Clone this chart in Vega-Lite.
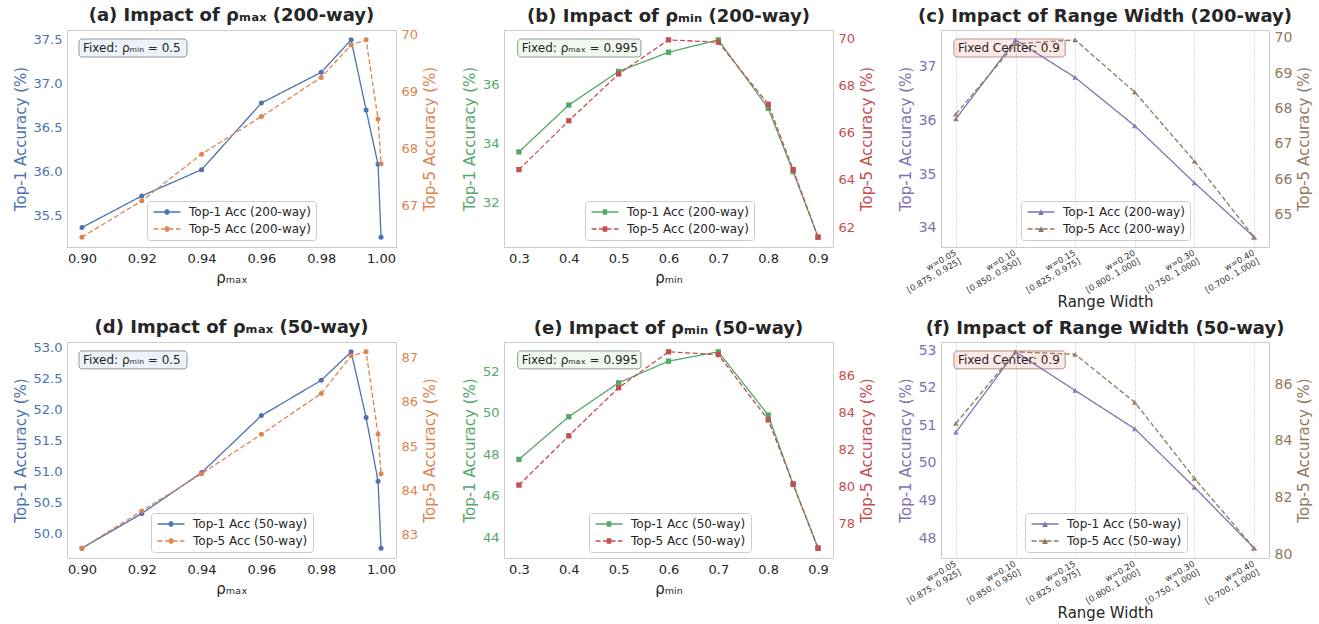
{
  "$schema": "https://vega.github.io/schema/vega-lite/v6.json",
  "padding": {"left": 12, "top": 6, "right": 5, "bottom": 5},
  "bounds": "flush",
  "columns": 3,
  "spacing": {"row": 95, "column": 108},
  "resolve": {"scale": {"color": "independent", "strokeDash": "independent", "x": "independent", "y": "independent"}, "legend": {"color": "independent", "strokeDash": "independent"}},
  "datasets": {
    "a1": [
      {"rho_max": 0.90, "series": "Top-1 Acc (200-way)", "acc": 35.36},
      {"rho_max": 0.92, "series": "Top-1 Acc (200-way)", "acc": 35.72},
      {"rho_max": 0.94, "series": "Top-1 Acc (200-way)", "acc": 36.02},
      {"rho_max": 0.96, "series": "Top-1 Acc (200-way)", "acc": 36.78},
      {"rho_max": 0.98, "series": "Top-1 Acc (200-way)", "acc": 37.13},
      {"rho_max": 0.99, "series": "Top-1 Acc (200-way)", "acc": 37.50},
      {"rho_max": 0.995, "series": "Top-1 Acc (200-way)", "acc": 36.70},
      {"rho_max": 0.999, "series": "Top-1 Acc (200-way)", "acc": 36.08},
      {"rho_max": 1.0, "series": "Top-1 Acc (200-way)", "acc": 35.25}
    ],
    "a5": [
      {"rho_max": 0.90, "series": "Top-5 Acc (200-way)", "acc": 66.44},
      {"rho_max": 0.92, "series": "Top-5 Acc (200-way)", "acc": 67.08},
      {"rho_max": 0.94, "series": "Top-5 Acc (200-way)", "acc": 67.90},
      {"rho_max": 0.96, "series": "Top-5 Acc (200-way)", "acc": 68.56},
      {"rho_max": 0.98, "series": "Top-5 Acc (200-way)", "acc": 69.25},
      {"rho_max": 0.99, "series": "Top-5 Acc (200-way)", "acc": 69.82},
      {"rho_max": 0.995, "series": "Top-5 Acc (200-way)", "acc": 69.91},
      {"rho_max": 0.999, "series": "Top-5 Acc (200-way)", "acc": 68.52},
      {"rho_max": 1.0, "series": "Top-5 Acc (200-way)", "acc": 67.73}
    ],
    "b1": [
      {"rho_min": 0.3, "series": "Top-1 Acc (200-way)", "acc": 33.70},
      {"rho_min": 0.4, "series": "Top-1 Acc (200-way)", "acc": 35.29},
      {"rho_min": 0.5, "series": "Top-1 Acc (200-way)", "acc": 36.43},
      {"rho_min": 0.6, "series": "Top-1 Acc (200-way)", "acc": 37.08},
      {"rho_min": 0.7, "series": "Top-1 Acc (200-way)", "acc": 37.50},
      {"rho_min": 0.8, "series": "Top-1 Acc (200-way)", "acc": 35.18},
      {"rho_min": 0.85, "series": "Top-1 Acc (200-way)", "acc": 33.03},
      {"rho_min": 0.9, "series": "Top-1 Acc (200-way)", "acc": 30.81}
    ],
    "b5": [
      {"rho_min": 0.3, "series": "Top-5 Acc (200-way)", "acc": 64.44},
      {"rho_min": 0.4, "series": "Top-5 Acc (200-way)", "acc": 66.52},
      {"rho_min": 0.5, "series": "Top-5 Acc (200-way)", "acc": 68.51},
      {"rho_min": 0.6, "series": "Top-5 Acc (200-way)", "acc": 69.96},
      {"rho_min": 0.7, "series": "Top-5 Acc (200-way)", "acc": 69.86},
      {"rho_min": 0.8, "series": "Top-5 Acc (200-way)", "acc": 67.22},
      {"rho_min": 0.85, "series": "Top-5 Acc (200-way)", "acc": 64.44},
      {"rho_min": 0.9, "series": "Top-5 Acc (200-way)", "acc": 61.57}
    ],
    "c1": [
      {"range": "w=0.05\n[0.875, 0.925]", "series": "Top-1 Acc (200-way)", "acc": 36.03},
      {"range": "w=0.10\n[0.850, 0.950]", "series": "Top-1 Acc (200-way)", "acc": 37.50},
      {"range": "w=0.15\n[0.825, 0.975]", "series": "Top-1 Acc (200-way)", "acc": 36.80},
      {"range": "w=0.20\n[0.800, 1.000]", "series": "Top-1 Acc (200-way)", "acc": 35.90},
      {"range": "w=0.30\n[0.750, 1.000]", "series": "Top-1 Acc (200-way)", "acc": 34.84},
      {"range": "w=0.40\n[0.700, 1.000]", "series": "Top-1 Acc (200-way)", "acc": 33.83}
    ],
    "c5": [
      {"range": "w=0.05\n[0.875, 0.925]", "series": "Top-5 Acc (200-way)", "acc": 67.84},
      {"range": "w=0.10\n[0.850, 0.950]", "series": "Top-5 Acc (200-way)", "acc": 69.83},
      {"range": "w=0.15\n[0.825, 0.975]", "series": "Top-5 Acc (200-way)", "acc": 69.94},
      {"range": "w=0.20\n[0.800, 1.000]", "series": "Top-5 Acc (200-way)", "acc": 68.46},
      {"range": "w=0.30\n[0.750, 1.000]", "series": "Top-5 Acc (200-way)", "acc": 66.51},
      {"range": "w=0.40\n[0.700, 1.000]", "series": "Top-5 Acc (200-way)", "acc": 64.36}
    ],
    "d1": [
      {"rho_max": 0.90, "series": "Top-1 Acc (50-way)", "acc": 49.76},
      {"rho_max": 0.92, "series": "Top-1 Acc (50-way)", "acc": 50.32},
      {"rho_max": 0.94, "series": "Top-1 Acc (50-way)", "acc": 50.98},
      {"rho_max": 0.96, "series": "Top-1 Acc (50-way)", "acc": 51.90},
      {"rho_max": 0.98, "series": "Top-1 Acc (50-way)", "acc": 52.47},
      {"rho_max": 0.99, "series": "Top-1 Acc (50-way)", "acc": 52.93},
      {"rho_max": 0.995, "series": "Top-1 Acc (50-way)", "acc": 51.87},
      {"rho_max": 0.999, "series": "Top-1 Acc (50-way)", "acc": 50.84},
      {"rho_max": 1.0, "series": "Top-1 Acc (50-way)", "acc": 49.76}
    ],
    "d5": [
      {"rho_max": 0.90, "series": "Top-5 Acc (50-way)", "acc": 82.70},
      {"rho_max": 0.92, "series": "Top-5 Acc (50-way)", "acc": 83.54},
      {"rho_max": 0.94, "series": "Top-5 Acc (50-way)", "acc": 84.38},
      {"rho_max": 0.96, "series": "Top-5 Acc (50-way)", "acc": 85.27},
      {"rho_max": 0.98, "series": "Top-5 Acc (50-way)", "acc": 86.19},
      {"rho_max": 0.99, "series": "Top-5 Acc (50-way)", "acc": 87.04},
      {"rho_max": 0.995, "series": "Top-5 Acc (50-way)", "acc": 87.13},
      {"rho_max": 0.999, "series": "Top-5 Acc (50-way)", "acc": 85.27},
      {"rho_max": 1.0, "series": "Top-5 Acc (50-way)", "acc": 84.38}
    ],
    "e1": [
      {"rho_min": 0.3, "series": "Top-1 Acc (50-way)", "acc": 47.76},
      {"rho_min": 0.4, "series": "Top-1 Acc (50-way)", "acc": 49.81},
      {"rho_min": 0.5, "series": "Top-1 Acc (50-way)", "acc": 51.44},
      {"rho_min": 0.6, "series": "Top-1 Acc (50-way)", "acc": 52.48},
      {"rho_min": 0.7, "series": "Top-1 Acc (50-way)", "acc": 52.93},
      {"rho_min": 0.8, "series": "Top-1 Acc (50-way)", "acc": 49.89},
      {"rho_min": 0.85, "series": "Top-1 Acc (50-way)", "acc": 46.56},
      {"rho_min": 0.9, "series": "Top-1 Acc (50-way)", "acc": 43.49}
    ],
    "e5": [
      {"rho_min": 0.3, "series": "Top-5 Acc (50-way)", "acc": 80.06},
      {"rho_min": 0.4, "series": "Top-5 Acc (50-way)", "acc": 82.72},
      {"rho_min": 0.5, "series": "Top-5 Acc (50-way)", "acc": 85.32},
      {"rho_min": 0.6, "series": "Top-5 Acc (50-way)", "acc": 87.26},
      {"rho_min": 0.7, "series": "Top-5 Acc (50-way)", "acc": 87.11},
      {"rho_min": 0.8, "series": "Top-5 Acc (50-way)", "acc": 83.58},
      {"rho_min": 0.85, "series": "Top-5 Acc (50-way)", "acc": 80.12},
      {"rho_min": 0.9, "series": "Top-5 Acc (50-way)", "acc": 76.65}
    ],
    "f1": [
      {"range": "w=0.05\n[0.875, 0.925]", "series": "Top-1 Acc (50-way)", "acc": 50.82},
      {"range": "w=0.10\n[0.850, 0.950]", "series": "Top-1 Acc (50-way)", "acc": 52.96},
      {"range": "w=0.15\n[0.825, 0.975]", "series": "Top-1 Acc (50-way)", "acc": 51.93},
      {"range": "w=0.20\n[0.800, 1.000]", "series": "Top-1 Acc (50-way)", "acc": 50.91},
      {"range": "w=0.30\n[0.750, 1.000]", "series": "Top-1 Acc (50-way)", "acc": 49.35},
      {"range": "w=0.40\n[0.700, 1.000]", "series": "Top-1 Acc (50-way)", "acc": 47.73}
    ],
    "f5": [
      {"range": "w=0.05\n[0.875, 0.925]", "series": "Top-5 Acc (50-way)", "acc": 84.62},
      {"range": "w=0.10\n[0.850, 0.950]", "series": "Top-5 Acc (50-way)", "acc": 87.14},
      {"range": "w=0.15\n[0.825, 0.975]", "series": "Top-5 Acc (50-way)", "acc": 87.05},
      {"range": "w=0.20\n[0.800, 1.000]", "series": "Top-5 Acc (50-way)", "acc": 85.36},
      {"range": "w=0.30\n[0.750, 1.000]", "series": "Top-5 Acc (50-way)", "acc": 82.68},
      {"range": "w=0.40\n[0.700, 1.000]", "series": "Top-5 Acc (50-way)", "acc": 80.22}
    ],
    "noteMin": [{"note": "Fixed: ρₘᵢₙ = 0.5"}],
    "noteMax": [{"note": "Fixed: ρₘₐₓ = 0.995"}],
    "noteCenter": [{"note": "Fixed Center: 0.9"}]
  },
  "concat": [
    {
      "title": "(a) Impact of ρₘₐₓ (200-way)",
      "width": 329, "height": 217,
      "resolve": {"scale": {"y": "independent"}, "axis": {"y": "independent"}},
      "layer": [
        {
          "data": {"name": "a1"},
          "layer": [
            {"data": {"name": "noteMin"}, "mark": {"type": "rect", "fill": "#edf3fa", "stroke": "#8e96a3", "strokeWidth": 1, "cornerRadius": 3},
             "encoding": {"x": {"datum": 0.89901, "type": "quantitative"}, "x2": {"datum": 0.93512}, "y": {"datum": 37.5099, "type": "quantitative"}, "y2": {"datum": 37.3045}}},
            {"mark": {"type": "line", "strokeWidth": 1.3, "point": {"filled": true, "size": 25, "shape": "circle"}},
             "encoding": {
               "x": {"field": "rho_max", "type": "quantitative", "scale": {"domain": [0.895, 1.005], "nice": false, "zero": false}, "axis": {"title": "ρₘₐₓ", "values": [0.9, 0.92, 0.94, 0.96, 0.98, 1.0], "format": ".2f", "gridDash": [1, 2], "gridColor": "#b8b8b8"}},
               "y": {"field": "acc", "type": "quantitative", "scale": {"domain": [35.1375, 37.6125], "nice": false, "zero": false}, "axis": {"title": "Top-1 Accuracy (%)", "values": [35.5, 36, 36.5, 37, 37.5], "format": ".1f", "labelColor": "#4C72B0", "titleColor": "#4C72B0", "gridDash": [1, 2], "gridColor": "#b8b8b8"}},
               "color": {"field": "series", "type": "nominal", "scale": {"domain": ["Top-1 Acc (200-way)", "Top-5 Acc (200-way)"], "range": ["#4C72B0", "#DD8452"]}, "legend": {"title": null, "orient": "none", "legendX": 80, "legendY": 171, "symbolType": "M-1,0H5M1.67,-0.44H2.33M1.5,-0.22H2.5M1.45,0H2.55M1.5,0.22H2.5M1.67,0.44H2.33"}},
               "strokeDash": {"field": "series", "type": "nominal", "scale": {"domain": ["Top-1 Acc (200-way)", "Top-5 Acc (200-way)"], "range": [[1, 0], [5, 2.5]]}, "legend": {"title": null}}
             }},
            {"data": {"name": "noteMin"}, "mark": {"type": "text", "align": "left", "baseline": "middle", "fontSize": 12, "color": "#262626"},
             "encoding": {"x": {"datum": 0.90035, "type": "quantitative"}, "y": {"datum": 37.4072, "type": "quantitative"}, "text": {"field": "note"}}}
          ]
        },
        {
          "data": {"name": "a5"},
          "mark": {"type": "line", "strokeWidth": 1.3, "point": {"filled": true, "size": 25, "shape": "circle"}},
          "encoding": {
            "x": {"field": "rho_max", "type": "quantitative", "scale": {"domain": [0.895, 1.005], "nice": false, "zero": false}},
            "y": {"field": "acc", "type": "quantitative", "scale": {"domain": [66.2665, 70.0835], "nice": false, "zero": false}, "axis": {"orient": "right", "title": "Top-5 Accuracy (%)", "titleAngle": -90, "titleBaseline": "top", "values": [67, 68, 69, 70], "format": "d", "labelColor": "#DD8452", "titleColor": "#DD8452", "gridColor": "#d6d6d6"}},
            "color": {"field": "series", "type": "nominal", "scale": {"domain": ["Top-1 Acc (200-way)", "Top-5 Acc (200-way)"], "range": ["#4C72B0", "#DD8452"]}},
            "strokeDash": {"field": "series", "type": "nominal", "scale": {"domain": ["Top-1 Acc (200-way)", "Top-5 Acc (200-way)"], "range": [[1, 0], [5, 2.5]]}}
          }
        }
      ]
    },
    {
      "title": "(b) Impact of ρₘᵢₙ (200-way)",
      "width": 329, "height": 217,
      "resolve": {"scale": {"y": "independent"}, "axis": {"y": "independent"}},
      "layer": [
        {
          "data": {"name": "b1"},
          "layer": [
            {"data": {"name": "noteMax"}, "mark": {"type": "rect", "fill": "#eff9ee", "stroke": "#8e9a8e", "strokeWidth": 1, "cornerRadius": 3},
             "encoding": {"x": {"datum": 0.29748, "type": "quantitative"}, "x2": {"datum": 0.54483}, "y": {"datum": 37.5293, "type": "quantitative"}, "y2": {"datum": 36.9189}}},
            {"mark": {"type": "line", "strokeWidth": 1.3, "point": {"filled": true, "size": 28, "shape": "square"}},
             "encoding": {
               "x": {"field": "rho_min", "type": "quantitative", "scale": {"domain": [0.27, 0.93], "nice": false, "zero": false}, "axis": {"title": "ρₘᵢₙ", "values": [0.3, 0.4, 0.5, 0.6, 0.7, 0.8, 0.9], "format": ".1f", "gridDash": [1, 2], "gridColor": "#b8b8b8"}},
               "y": {"field": "acc", "type": "quantitative", "scale": {"domain": [30.4755, 37.8345], "nice": false, "zero": false}, "axis": {"title": "Top-1 Accuracy (%)", "values": [32, 34, 36], "format": "d", "labelColor": "#55A868", "titleColor": "#55A868", "gridDash": [1, 2], "gridColor": "#b8b8b8"}},
               "color": {"field": "series", "type": "nominal", "scale": {"domain": ["Top-1 Acc (200-way)", "Top-5 Acc (200-way)"], "range": ["#55A868", "#C44E52"]}, "legend": {"title": null, "orient": "none", "legendX": 81, "legendY": 171, "symbolType": "M-1,0H5M1.5,-0.44H2.5M1.5,-0.22H2.5M1.5,0H2.5M1.5,0.22H2.5M1.5,0.44H2.5"}},
               "strokeDash": {"field": "series", "type": "nominal", "scale": {"domain": ["Top-1 Acc (200-way)", "Top-5 Acc (200-way)"], "range": [[1, 0], [5, 2.5]]}, "legend": {"title": null}}
             }},
            {"data": {"name": "noteMax"}, "mark": {"type": "text", "align": "left", "baseline": "middle", "fontSize": 12, "color": "#262626"},
             "encoding": {"x": {"datum": 0.30551, "type": "quantitative"}, "y": {"datum": 37.2241, "type": "quantitative"}, "text": {"field": "note"}}}
          ]
        },
        {
          "data": {"name": "b5"},
          "mark": {"type": "line", "strokeWidth": 1.3, "point": {"filled": true, "size": 28, "shape": "square"}},
          "encoding": {
            "x": {"field": "rho_min", "type": "quantitative", "scale": {"domain": [0.27, 0.93], "nice": false, "zero": false}},
            "y": {"field": "acc", "type": "quantitative", "scale": {"domain": [61.15, 70.38], "nice": false, "zero": false}, "axis": {"orient": "right", "title": "Top-5 Accuracy (%)", "titleAngle": -90, "titleBaseline": "top", "values": [62, 64, 66, 68, 70], "format": "d", "labelColor": "#C44E52", "titleColor": "#C44E52", "gridColor": "#d6d6d6"}},
            "color": {"field": "series", "type": "nominal", "scale": {"domain": ["Top-1 Acc (200-way)", "Top-5 Acc (200-way)"], "range": ["#55A868", "#C44E52"]}},
            "strokeDash": {"field": "series", "type": "nominal", "scale": {"domain": ["Top-1 Acc (200-way)", "Top-5 Acc (200-way)"], "range": [[1, 0], [5, 2.5]]}}
          }
        }
      ]
    },
    {
      "title": "(c) Impact of Range Width (200-way)",
      "width": 328, "height": 217,
      "resolve": {"scale": {"y": "independent"}, "axis": {"y": "independent"}},
      "layer": [
        {
          "data": {"name": "c1"},
          "layer": [
            {"data": {"name": "noteCenter"}, "mark": {"type": "rect", "fill": "#fde5e2", "fillOpacity": 0.9, "stroke": "#b39089", "strokeWidth": 1, "cornerRadius": 3, "xOffset": -2, "x2Offset": -10},
             "encoding": {"x": {"datum": "w=0.05\n[0.875, 0.925]", "type": "ordinal"}, "x2": {"datum": "w=0.15\n[0.825, 0.975]"}, "y": {"datum": 37.5161, "type": "quantitative"}, "y2": {"datum": 37.1812}}},
            {"mark": {"type": "line", "strokeWidth": 1.3, "point": {"filled": true, "size": 30, "shape": "triangle-up"}},
             "encoding": {
               "x": {"field": "range", "type": "ordinal", "sort": null, "scale": {"type": "point", "padding": 0.25, "domain": ["w=0.05\n[0.875, 0.925]", "w=0.10\n[0.850, 0.950]", "w=0.15\n[0.825, 0.975]", "w=0.20\n[0.800, 1.000]", "w=0.30\n[0.750, 1.000]", "w=0.40\n[0.700, 1.000]"]}, "axis": {"title": "Range Width", "grid": true, "labelExpr": "split(datum.label, '\\n')", "labelAngle": -30, "labelAlign": "right", "labelBaseline": "top", "labelFontSize": 8.5, "labelLineHeight": 9.5, "labelPadding": 1, "labelOffset": -3, "titlePadding": 1, "labelColor": "#333333", "gridDash": [1, 2], "gridColor": "#b8b8b8"}},
               "y": {"field": "acc", "type": "quantitative", "scale": {"domain": [33.6465, 37.6835], "nice": false, "zero": false}, "axis": {"title": "Top-1 Accuracy (%)", "values": [34, 35, 36, 37], "format": "d", "labelFontSize": 14, "labelColor": "#8172B3", "titleColor": "#8172B3", "gridDash": [1, 2], "gridColor": "#b8b8b8"}},
               "color": {"field": "series", "type": "nominal", "scale": {"domain": ["Top-1 Acc (200-way)", "Top-5 Acc (200-way)"], "range": ["#8172B3", "#937860"]}, "legend": {"title": null, "orient": "none", "legendX": 80, "legendY": 171, "symbolType": "M-1,0H5M1.88,-0.33H2.12M1.76,-0.11H2.24M1.65,0.11H2.35M1.54,0.33H2.46M1.45,0.5H2.55"}},
               "strokeDash": {"field": "series", "type": "nominal", "scale": {"domain": ["Top-1 Acc (200-way)", "Top-5 Acc (200-way)"], "range": [[1, 0], [5, 2.5]]}, "legend": {"title": null}}
             }},
            {"data": {"name": "noteCenter"}, "mark": {"type": "text", "align": "left", "baseline": "middle", "fontSize": 12, "color": "#262626", "dx": 2},
             "encoding": {"x": {"datum": "w=0.05\n[0.875, 0.925]", "type": "ordinal"}, "y": {"datum": 37.3486, "type": "quantitative"}, "text": {"field": "note"}}}
          ]
        },
        {
          "data": {"name": "c5"},
          "mark": {"type": "line", "strokeWidth": 1.3, "point": {"filled": true, "size": 30, "shape": "triangle-up"}},
          "encoding": {
            "x": {"field": "range", "type": "ordinal", "sort": null, "scale": {"type": "point", "padding": 0.25, "domain": ["w=0.05\n[0.875, 0.925]", "w=0.10\n[0.850, 0.950]", "w=0.15\n[0.825, 0.975]", "w=0.20\n[0.800, 1.000]", "w=0.30\n[0.750, 1.000]", "w=0.40\n[0.700, 1.000]"]}},
            "y": {"field": "acc", "type": "quantitative", "scale": {"domain": [64.081, 70.219], "nice": false, "zero": false}, "axis": {"orient": "right", "title": "Top-5 Accuracy (%)", "titleAngle": -90, "titleBaseline": "top", "values": [65, 66, 67, 68, 69, 70], "format": "d", "labelFontSize": 14, "labelColor": "#937860", "titleColor": "#937860", "gridColor": "#d6d6d6"}},
            "color": {"field": "series", "type": "nominal", "scale": {"domain": ["Top-1 Acc (200-way)", "Top-5 Acc (200-way)"], "range": ["#8172B3", "#937860"]}},
            "strokeDash": {"field": "series", "type": "nominal", "scale": {"domain": ["Top-1 Acc (200-way)", "Top-5 Acc (200-way)"], "range": [[1, 0], [5, 2.5]]}}
          }
        }
      ]
    },
    {
      "title": "(d) Impact of ρₘₐₓ (50-way)",
      "width": 329, "height": 216,
      "resolve": {"scale": {"y": "independent"}, "axis": {"y": "independent"}},
      "layer": [
        {
          "data": {"name": "d1"},
          "layer": [
            {"data": {"name": "noteMin"}, "mark": {"type": "rect", "fill": "#edf3fa", "stroke": "#8e96a3", "strokeWidth": 1, "cornerRadius": 3},
             "encoding": {"x": {"datum": 0.89901, "type": "quantitative"}, "x2": {"datum": 0.93512}, "y": {"datum": 52.9439, "type": "quantitative"}, "y2": {"datum": 52.6546}}},
            {"mark": {"type": "line", "strokeWidth": 1.3, "point": {"filled": true, "size": 25, "shape": "circle"}},
             "encoding": {
               "x": {"field": "rho_max", "type": "quantitative", "scale": {"domain": [0.895, 1.005], "nice": false, "zero": false}, "axis": {"title": "ρₘₐₓ", "values": [0.9, 0.92, 0.94, 0.96, 0.98, 1.0], "format": ".2f", "gridDash": [1, 2], "gridColor": "#b8b8b8"}},
               "y": {"field": "acc", "type": "quantitative", "scale": {"domain": [49.6015, 53.0885], "nice": false, "zero": false}, "axis": {"title": "Top-1 Accuracy (%)", "values": [50, 50.5, 51, 51.5, 52, 52.5, 53], "tickCount": 20, "format": ".1f", "labelColor": "#4C72B0", "titleColor": "#4C72B0", "gridDash": [1, 2], "gridColor": "#b8b8b8"}},
               "color": {"field": "series", "type": "nominal", "scale": {"domain": ["Top-1 Acc (50-way)", "Top-5 Acc (50-way)"], "range": ["#4C72B0", "#DD8452"]}, "legend": {"title": null, "orient": "none", "legendX": 84, "legendY": 171, "symbolType": "M-1,0H5M1.67,-0.44H2.33M1.5,-0.22H2.5M1.45,0H2.55M1.5,0.22H2.5M1.67,0.44H2.33"}},
               "strokeDash": {"field": "series", "type": "nominal", "scale": {"domain": ["Top-1 Acc (50-way)", "Top-5 Acc (50-way)"], "range": [[1, 0], [5, 2.5]]}, "legend": {"title": null}}
             }},
            {"data": {"name": "noteMin"}, "mark": {"type": "text", "align": "left", "baseline": "middle", "fontSize": 12, "color": "#262626"},
             "encoding": {"x": {"datum": 0.90035, "type": "quantitative"}, "y": {"datum": 52.7993, "type": "quantitative"}, "text": {"field": "note"}}}
          ]
        },
        {
          "data": {"name": "d5"},
          "mark": {"type": "line", "strokeWidth": 1.3, "point": {"filled": true, "size": 25, "shape": "circle"}},
          "encoding": {
            "x": {"field": "rho_max", "type": "quantitative", "scale": {"domain": [0.895, 1.005], "nice": false, "zero": false}},
            "y": {"field": "acc", "type": "quantitative", "scale": {"domain": [82.4785, 87.3515], "nice": false, "zero": false}, "axis": {"orient": "right", "title": "Top-5 Accuracy (%)", "titleAngle": -90, "titleBaseline": "top", "values": [83, 84, 85, 86, 87], "format": "d", "labelColor": "#DD8452", "titleColor": "#DD8452", "gridColor": "#d6d6d6"}},
            "color": {"field": "series", "type": "nominal", "scale": {"domain": ["Top-1 Acc (50-way)", "Top-5 Acc (50-way)"], "range": ["#4C72B0", "#DD8452"]}},
            "strokeDash": {"field": "series", "type": "nominal", "scale": {"domain": ["Top-1 Acc (50-way)", "Top-5 Acc (50-way)"], "range": [[1, 0], [5, 2.5]]}}
          }
        }
      ]
    },
    {
      "title": "(e) Impact of ρₘᵢₙ (50-way)",
      "width": 329, "height": 216,
      "resolve": {"scale": {"y": "independent"}, "axis": {"y": "independent"}},
      "layer": [
        {
          "data": {"name": "e1"},
          "layer": [
            {"data": {"name": "noteMax"}, "mark": {"type": "rect", "fill": "#eff9ee", "stroke": "#8e9a8e", "strokeWidth": 1, "cornerRadius": 3},
             "encoding": {"x": {"datum": 0.29748, "type": "quantitative"}, "x2": {"datum": 0.54483}, "y": {"datum": 52.9713, "type": "quantitative"}, "y2": {"datum": 52.1100}}},
            {"mark": {"type": "line", "strokeWidth": 1.3, "point": {"filled": true, "size": 28, "shape": "square"}},
             "encoding": {
               "x": {"field": "rho_min", "type": "quantitative", "scale": {"domain": [0.27, 0.93], "nice": false, "zero": false}, "axis": {"title": "ρₘᵢₙ", "values": [0.3, 0.4, 0.5, 0.6, 0.7, 0.8, 0.9], "format": ".1f", "gridDash": [1, 2], "gridColor": "#b8b8b8"}},
               "y": {"field": "acc", "type": "quantitative", "scale": {"domain": [43.018, 53.402], "nice": false, "zero": false}, "axis": {"title": "Top-1 Accuracy (%)", "values": [44, 46, 48, 50, 52], "format": "d", "labelColor": "#55A868", "titleColor": "#55A868", "gridDash": [1, 2], "gridColor": "#b8b8b8"}},
               "color": {"field": "series", "type": "nominal", "scale": {"domain": ["Top-1 Acc (50-way)", "Top-5 Acc (50-way)"], "range": ["#55A868", "#C44E52"]}, "legend": {"title": null, "orient": "none", "legendX": 85, "legendY": 171, "symbolType": "M-1,0H5M1.5,-0.44H2.5M1.5,-0.22H2.5M1.5,0H2.5M1.5,0.22H2.5M1.5,0.44H2.5"}},
               "strokeDash": {"field": "series", "type": "nominal", "scale": {"domain": ["Top-1 Acc (50-way)", "Top-5 Acc (50-way)"], "range": [[1, 0], [5, 2.5]]}, "legend": {"title": null}}
             }},
            {"data": {"name": "noteMax"}, "mark": {"type": "text", "align": "left", "baseline": "middle", "fontSize": 12, "color": "#262626"},
             "encoding": {"x": {"datum": 0.30551, "type": "quantitative"}, "y": {"datum": 52.5406, "type": "quantitative"}, "text": {"field": "note"}}}
          ]
        },
        {
          "data": {"name": "e5"},
          "mark": {"type": "line", "strokeWidth": 1.3, "point": {"filled": true, "size": 28, "shape": "square"}},
          "encoding": {
            "x": {"field": "rho_min", "type": "quantitative", "scale": {"domain": [0.27, 0.93], "nice": false, "zero": false}},
            "y": {"field": "acc", "type": "quantitative", "scale": {"domain": [76.1195, 87.7905], "nice": false, "zero": false}, "axis": {"orient": "right", "title": "Top-5 Accuracy (%)", "titleAngle": -90, "titleBaseline": "top", "values": [78, 80, 82, 84, 86], "format": "d", "labelColor": "#C44E52", "titleColor": "#C44E52", "gridColor": "#d6d6d6"}},
            "color": {"field": "series", "type": "nominal", "scale": {"domain": ["Top-1 Acc (50-way)", "Top-5 Acc (50-way)"], "range": ["#55A868", "#C44E52"]}},
            "strokeDash": {"field": "series", "type": "nominal", "scale": {"domain": ["Top-1 Acc (50-way)", "Top-5 Acc (50-way)"], "range": [[1, 0], [5, 2.5]]}}
          }
        }
      ]
    },
    {
      "title": "(f) Impact of Range Width (50-way)",
      "width": 328, "height": 216,
      "resolve": {"scale": {"y": "independent"}, "axis": {"y": "independent"}},
      "layer": [
        {
          "data": {"name": "f1"},
          "layer": [
            {"data": {"name": "noteCenter"}, "mark": {"type": "rect", "fill": "#fde5e2", "fillOpacity": 0.9, "stroke": "#b39089", "strokeWidth": 1, "cornerRadius": 3, "xOffset": -2, "x2Offset": -10},
             "encoding": {"x": {"datum": "w=0.05\n[0.875, 0.925]", "type": "ordinal"}, "x2": {"datum": "w=0.15\n[0.825, 0.975]"}, "y": {"datum": 52.9829, "type": "quantitative"}, "y2": {"datum": 52.5057}}},
            {"mark": {"type": "line", "strokeWidth": 1.3, "point": {"filled": true, "size": 30, "shape": "triangle-up"}},
             "encoding": {
               "x": {"field": "range", "type": "ordinal", "sort": null, "scale": {"type": "point", "padding": 0.25, "domain": ["w=0.05\n[0.875, 0.925]", "w=0.10\n[0.850, 0.950]", "w=0.15\n[0.825, 0.975]", "w=0.20\n[0.800, 1.000]", "w=0.30\n[0.750, 1.000]", "w=0.40\n[0.700, 1.000]"]}, "axis": {"title": "Range Width", "grid": true, "labelExpr": "split(datum.label, '\\n')", "labelAngle": -30, "labelAlign": "right", "labelBaseline": "top", "labelFontSize": 8.5, "labelLineHeight": 9.5, "labelPadding": 1, "labelOffset": -3, "titlePadding": 1, "labelColor": "#333333", "gridDash": [1, 2], "gridColor": "#b8b8b8"}},
               "y": {"field": "acc", "type": "quantitative", "scale": {"domain": [47.4685, 53.2215], "nice": false, "zero": false}, "axis": {"title": "Top-1 Accuracy (%)", "values": [48, 49, 50, 51, 52, 53], "format": "d", "labelFontSize": 14, "labelColor": "#8172B3", "titleColor": "#8172B3", "gridDash": [1, 2], "gridColor": "#b8b8b8"}},
               "color": {"field": "series", "type": "nominal", "scale": {"domain": ["Top-1 Acc (50-way)", "Top-5 Acc (50-way)"], "range": ["#8172B3", "#937860"]}, "legend": {"title": null, "orient": "none", "legendX": 84, "legendY": 171, "symbolType": "M-1,0H5M1.88,-0.33H2.12M1.76,-0.11H2.24M1.65,0.11H2.35M1.54,0.33H2.46M1.45,0.5H2.55"}},
               "strokeDash": {"field": "series", "type": "nominal", "scale": {"domain": ["Top-1 Acc (50-way)", "Top-5 Acc (50-way)"], "range": [[1, 0], [5, 2.5]]}, "legend": {"title": null}}
             }},
            {"data": {"name": "noteCenter"}, "mark": {"type": "text", "align": "left", "baseline": "middle", "fontSize": 12, "color": "#262626", "dx": 2},
             "encoding": {"x": {"datum": "w=0.05\n[0.875, 0.925]", "type": "ordinal"}, "y": {"datum": 52.7443, "type": "quantitative"}, "text": {"field": "note"}}}
          ]
        },
        {
          "data": {"name": "f5"},
          "mark": {"type": "line", "strokeWidth": 1.3, "point": {"filled": true, "size": 30, "shape": "triangle-up"}},
          "encoding": {
            "x": {"field": "range", "type": "ordinal", "sort": null, "scale": {"type": "point", "padding": 0.25, "domain": ["w=0.05\n[0.875, 0.925]", "w=0.10\n[0.850, 0.950]", "w=0.15\n[0.825, 0.975]", "w=0.20\n[0.800, 1.000]", "w=0.30\n[0.750, 1.000]", "w=0.40\n[0.700, 1.000]"]}},
            "y": {"field": "acc", "type": "quantitative", "scale": {"domain": [79.874, 87.486], "nice": false, "zero": false}, "axis": {"orient": "right", "title": "Top-5 Accuracy (%)", "titleAngle": -90, "titleBaseline": "top", "values": [80, 82, 84, 86], "format": "d", "labelFontSize": 14, "labelColor": "#937860", "titleColor": "#937860", "gridColor": "#d6d6d6"}},
            "color": {"field": "series", "type": "nominal", "scale": {"domain": ["Top-1 Acc (50-way)", "Top-5 Acc (50-way)"], "range": ["#8172B3", "#937860"]}},
            "strokeDash": {"field": "series", "type": "nominal", "scale": {"domain": ["Top-1 Acc (50-way)", "Top-5 Acc (50-way)"], "range": [[1, 0], [5, 2.5]]}}
          }
        }
      ]
    }
  ],
  "config": {
    "font": "DejaVu Sans",
    "background": "white",
    "view": {"stroke": "#cccccc", "strokeWidth": 1},
    "title": {"font": "DejaVu Sans", "fontSize": 18, "fontWeight": "bold", "color": "#262626", "anchor": "middle", "frame": "group", "offset": 0},
    "axis": {"domain": false, "ticks": false, "labelFont": "DejaVu Sans", "labelFontSize": 13, "labelColor": "#262626", "titleFont": "DejaVu Sans", "titleFontSize": 15, "titleFontWeight": "normal", "titleColor": "#262626", "labelPadding": 5, "titlePadding": 5, "labelOverlap": false, "tickCount": 20, "gridWidth": 0.9},
    "legend": {"labelFont": "DejaVu Sans", "labelFontSize": 12, "labelColor": "#262626", "fillColor": "rgba(255,255,255,0.85)", "strokeColor": "#cccccc", "cornerRadius": 3, "padding": 5, "symbolSize": 81, "symbolStrokeWidth": 1.3, "labelOffset": 25, "rowPadding": 5, "labelLimit": 300}
  }
}
